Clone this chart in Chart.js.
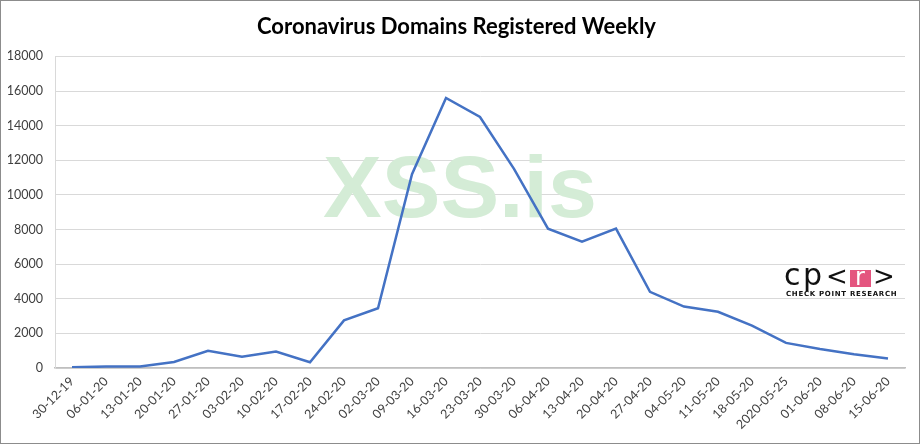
<!DOCTYPE html>
<html>
<head>
<meta charset="utf-8">
<script src="https://cdn.jsdelivr.net/npm/chart.js@4"></script>
<style>
  body { margin: 0; background: #fff; }
  #wrap { width: 920px; height: 444px; box-sizing: border-box; border: 1px solid #8c8c8c; position: relative; }
  canvas { position: absolute; left: -1px; top: -1px; }
</style>
</head>
<body>
<div id="wrap"><canvas id="canvas" width="920" height="444"></canvas></div>
<script>
let weeks = ["30-12-19", "06-01-20", "13-01-20", "20-01-20", "27-01-20", "03-02-20", "10-02-20",
  "17-02-20", "24-02-20", "02-03-20", "09-03-20", "16-03-20", "23-03-20", "30-03-20", "06-04-20",
  "13-04-20", "20-04-20", "27-04-20", "04-05-20", "11-05-20", "18-05-20", "2020-05-25", "01-06-20",
  "08-06-20", "15-06-20"];

let domains = [50, 80, 90, 350, 1000, 650, 950, 330, 2750, 3450, 11200, 15600, 14500, 11500, 8050,
  7300, 8050, 4400, 3550, 3250, 2450, 1450, 1100, 800, 550];

let yTicks = [0, 2000, 4000, 6000, 8000, 10000, 12000, 14000, 16000, 18000];

// watermark sits behind the line, logo on top
let watermark = {
  id: "watermark",
  beforeDatasetsDraw(chart) {
    let ctx = chart.ctx;
    ctx.save();
    ctx.fillStyle = "#d4ecd6";
    ctx.font = "bold 88px 'Liberation Sans'";
    ctx.textBaseline = "alphabetic";
    ctx.textAlign = "left";
    ctx.fillText("XSS.is", 323, 217);
    ctx.restore();
  }
};

let logo = {
  id: "logo",
  afterDraw(chart) {
    let ctx = chart.ctx;
    ctx.save();
    ctx.fillStyle = "#fff";
    ctx.fillRect(783, 266, 122, 32);
    ctx.textBaseline = "alphabetic";
    ctx.textAlign = "left";
    ctx.fillStyle = "#111";
    ctx.font = "30px 'DejaVu Sans'";
    ctx.fillText("c", 784, 285);
    ctx.fillText("p", 803, 285);
    ctx.font = "26px 'DejaVu Sans'";
    ctx.fillText("<", 826, 285);
    ctx.fillStyle = "#e4557f";
    ctx.fillRect(850, 270, 21, 17);
    ctx.fillStyle = "#fff";
    ctx.font = "24px 'DejaVu Sans'";
    ctx.fillText("r", 855, 285);
    ctx.fillStyle = "#111";
    ctx.font = "26px 'DejaVu Sans'";
    ctx.fillText(">", 873, 285);
    ctx.font = "bold 7px 'DejaVu Sans'";
    ctx.letterSpacing = "0.7px";
    ctx.fillText("CHECK POINT RESEARCH", 786, 296);
    ctx.restore();
  }
};

let myChart = new Chart(document.getElementById("canvas").getContext("2d"), {
  type: "line",
  data: {
    labels: weeks,
    datasets: [
      {
        label: "Domains",
        data: domains,
        borderColor: "#4472c4",
        backgroundColor: "#4472c4",
        borderWidth: 2.5,
        pointRadius: 0,
        tension: 0,
      },
    ],
  },
  options: {
    responsive: false,
    animation: false,
    layout: {
      padding: { top: 10, left: 8, right: 15, bottom: 4 },
    },
    plugins: {
      legend: { display: false },
      tooltip: { enabled: false },
      title: {
        display: true,
        text: "Coronavirus Domains Registered Weekly",
        color: "#000",
        font: { family: "Lato", size: 22, weight: "bold" },
        padding: { top: 4, bottom: 16 },
      },
    },
    scales: {
      x: {
        offset: true,
        grid: { display: false, drawTicks: false },
        border: { color: "#bfbfbf", width: 1.5 },
        ticks: {
          color: "#404040",
          font: { family: "Lato", size: 12.5 },
          maxRotation: 45,
          minRotation: 45,
          autoSkip: false,
          padding: 6,
        },
        afterFit(scale) { scale.height = 72; },
      },
      y: {
        min: 0,
        max: 18000,
        afterBuildTicks(scale) { scale.ticks = yTicks.map((v) => ({ value: v })); },
        grid: { color: "#d9d9d9", drawTicks: false },
        border: { color: "#d9d9d9" },
        ticks: {
          color: "#404040",
          font: { family: "Lato", size: 12.5 },
          padding: 12,
          callback: (v) => String(v),
        },
        afterFit(scale) { scale.width = 47; },
      },
    },
  },
  plugins: [watermark, logo],
});
</script>
</body>
</html>
